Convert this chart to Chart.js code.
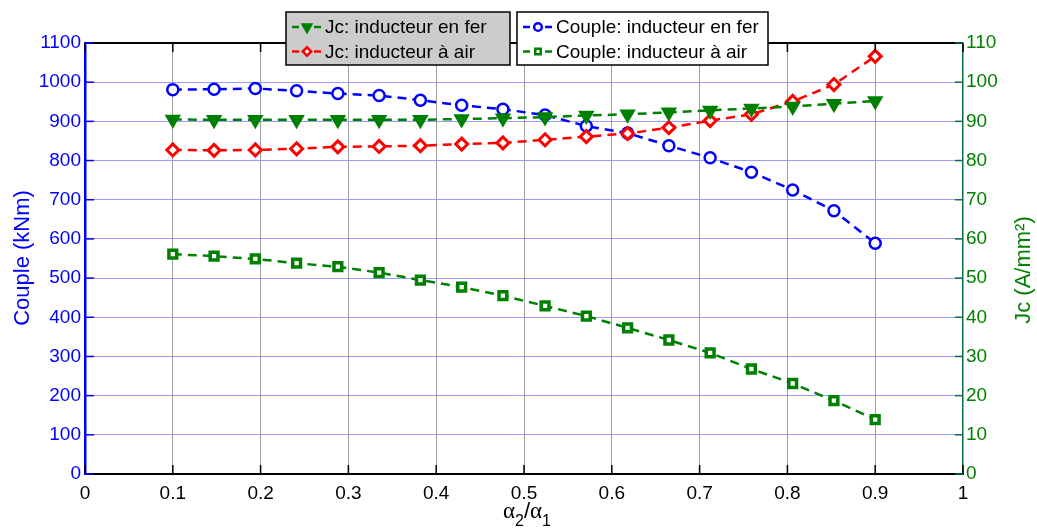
<!DOCTYPE html>
<html lang="fr">

<head>
    <meta charset="UTF-8">
    <title>Couple et Jc en fonction de a2/a1</title>
    <script src="https://cdn.jsdelivr.net/npm/chart.js"></script>
    <style>
        body { margin: 0; background: #ffffff; }
        canvas { display: block; }
    </style>
</head>

<body>
    <canvas id="resultsChart" width="1037" height="529"></canvas>

    <script>
        // values
        const ratios = [0.1, 0.147, 0.194, 0.241, 0.288, 0.335, 0.382, 0.429, 0.476,
                        0.524, 0.571, 0.618, 0.665, 0.712, 0.759, 0.806, 0.853, 0.9];
        const coupleFer = [981, 982, 984, 978, 971, 966, 954, 941, 931,
                           916, 888, 870, 838, 807, 770, 725, 672, 589];
        const coupleAir = [561, 556, 549, 538, 529, 514, 495, 477, 455,
                           429, 403, 373, 342, 309, 268, 231, 187, 139];
        const jcFer = [90.5, 90.4, 90.4, 90.4, 90.4, 90.4, 90.4, 90.6, 90.8,
                       91.1, 91.5, 91.8, 92.3, 92.8, 93.3, 93.8, 94.5, 95.2];
        const jcAir = [82.7, 82.6, 82.7, 83.0, 83.5, 83.6, 83.8, 84.2, 84.5,
                       85.3, 86.1, 86.9, 88.4, 90.2, 91.8, 95.1, 99.4, 106.6];

        const seriesLabels = ["Jc: inducteur en fer", "Jc: inducteur à air",
                              "Couple: inducteur en fer", "Couple: inducteur à air"];

        const BLUE = "#0000ff";
        const RED = "#ff0000";
        const GREEN = "#008000";
        const FONT = "'Liberation Sans', Arial, sans-serif";

        function toPoints(values) {
            return ratios.map((r, i) => ({ x: r, y: values[i] }));
        }

        function makeDataset(label, values, color, axis, style) {
            return Object.assign({
                label: label,
                data: toPoints(values),
                yAxisID: axis,
                borderColor: color,
                pointBorderColor: color,
                borderWidth: 2.5,
                borderDash: [9, 6],
                pointBorderWidth: 2.5,
                fill: false,
                tension: 0
            }, style);
        }

        let datasets = [
            makeDataset(seriesLabels[0], jcFer, GREEN, "y1",
                { pointStyle: "triangle", rotation: 180, pointRadius: 7, pointBackgroundColor: GREEN }),
            makeDataset(seriesLabels[1], jcAir, RED, "y1",
                { pointStyle: "rectRot", pointRadius: 6, pointBorderWidth: 3, pointBackgroundColor: "#ffffff" }),
            makeDataset(seriesLabels[2], coupleFer, BLUE, "y",
                { pointStyle: "circle", pointRadius: 5.5, pointBorderWidth: 2.5, pointBackgroundColor: "#ffffff" }),
            makeDataset(seriesLabels[3], coupleAir, GREEN, "y",
                { pointStyle: "rect", pointRadius: 5.5, pointBorderWidth: 3.5, pointBackgroundColor: "#ffffff" })
        ];

        // draw a legend sample (short dashed line + marker)
        function drawSample(ctx, ds, x0, x1, y) {
            ctx.save();
            ctx.strokeStyle = ds.borderColor;
            ctx.lineWidth = 2.5;
            ctx.setLineDash([7, 4]);
            ctx.beginPath();
            ctx.moveTo(x0, y);
            ctx.lineTo(x1, y);
            ctx.stroke();
            ctx.setLineDash([]);
            ctx.strokeStyle = ds.pointBorderColor;
            ctx.fillStyle = ds.pointBackgroundColor;
            ctx.lineWidth = 2.5;
            Chart.helpers.drawPoint(ctx, {
                pointStyle: ds.pointStyle,
                rotation: ds.rotation || 0,
                radius: ds.pointRadius * 0.7,
                borderWidth: 2.5
            }, (x0 + x1) / 2, y);
            ctx.restore();
        }

        function drawLegendBox(ctx, items, box, bg) {
            ctx.save();
            ctx.fillStyle = bg;
            ctx.fillRect(box.x, box.y, box.w, box.h);
            ctx.strokeStyle = "#000000";
            ctx.lineWidth = 1.5;
            ctx.strokeRect(box.x, box.y, box.w, box.h);
            ctx.font = "19px " + FONT;
            ctx.fillStyle = "#000000";
            ctx.textBaseline = "middle";
            items.forEach((ds, i) => {
                let y = box.y + 15 + i * 24.5;
                drawSample(ctx, ds, box.x + 6, box.x + 36, y);
                ctx.fillText(ds.label, box.x + 39, y + 1);
            });
            ctx.restore();
        }

        // frame, inward ticks, legends and axis titles like the matlab figure
        const decorations = {
            id: "decorations",
            afterDraw(chart) {
                let ctx = chart.ctx;
                let area = chart.chartArea;
                let sx = chart.scales.x, sy = chart.scales.y, sy1 = chart.scales.y1;

                ctx.save();
                // top frame line
                ctx.strokeStyle = "#000000";
                ctx.lineWidth = 2;
                ctx.beginPath();
                ctx.moveTo(area.left, area.top);
                ctx.lineTo(area.right, area.top);
                ctx.stroke();

                // x ticks, bottom and top, pointing inside
                ctx.lineWidth = 1.5;
                sx.ticks.forEach(t => {
                    let px = sx.getPixelForValue(t.value);
                    ctx.beginPath();
                    ctx.moveTo(px, area.bottom);
                    ctx.lineTo(px, area.bottom - 9);
                    ctx.moveTo(px, area.top);
                    ctx.lineTo(px, area.top + 9);
                    ctx.stroke();
                });
                // left ticks
                ctx.strokeStyle = BLUE;
                sy.ticks.forEach(t => {
                    let py = sy.getPixelForValue(t.value);
                    ctx.beginPath();
                    ctx.moveTo(area.left, py);
                    ctx.lineTo(area.left + 9, py);
                    ctx.stroke();
                });
                // right ticks
                ctx.strokeStyle = "#0b6b4a";
                sy1.ticks.forEach(t => {
                    let py = sy1.getPixelForValue(t.value);
                    ctx.beginPath();
                    ctx.moveTo(area.right, py);
                    ctx.lineTo(area.right - 8, py);
                    ctx.stroke();
                });

                // axis titles
                ctx.font = "22px " + FONT;
                ctx.textAlign = "center";
                ctx.textBaseline = "middle";
                ctx.fillStyle = BLUE;
                ctx.save();
                ctx.translate(23, 258);
                ctx.rotate(-Math.PI / 2);
                ctx.fillText("Couple (kNm)", 0, 0);
                ctx.restore();

                ctx.fillStyle = GREEN;
                ctx.save();
                ctx.translate(1024, 270);
                ctx.rotate(-Math.PI / 2);
                ctx.fillText("Jc (A/mm²)", 0, 0);
                ctx.restore();

                // x title: alpha_2 / alpha_1
                ctx.fillStyle = "#000000";
                ctx.textAlign = "left";
                ctx.textBaseline = "alphabetic";
                let x = 503, base = 518;
                ctx.font = "23px 'Liberation Serif', serif";
                ctx.fillText("α", x, base);
                x += ctx.measureText("α").width;
                ctx.font = "16px " + FONT;
                ctx.fillText("2", x, base + 8);
                x += ctx.measureText("2").width;
                ctx.font = "22px " + FONT;
                ctx.fillText("/", x, base);
                x += ctx.measureText("/").width;
                ctx.font = "23px 'Liberation Serif', serif";
                ctx.fillText("α", x, base);
                x += ctx.measureText("α").width;
                ctx.font = "16px " + FONT;
                ctx.fillText("1", x, base + 8);
                ctx.restore();

                // the two legend boxes
                let ds = chart.data.datasets;
                drawLegendBox(ctx, [ds[0], ds[1]], { x: 286, y: 12, w: 224, h: 53 }, "#cccccc");
                drawLegendBox(ctx, [ds[2], ds[3]], { x: 517, y: 12, w: 251, h: 53 }, "#ffffff");
            }
        };

        let ctx = document.getElementById("resultsChart").getContext("2d");
        let chartInstance = new Chart(ctx, {
            type: "line",
            data: { datasets: datasets },
            plugins: [decorations],
            options: {
                responsive: false,
                animation: false,
                layout: { padding: { top: 43, left: 0, right: 0, bottom: 0 } },
                plugins: {
                    legend: { display: false },
                    tooltip: { enabled: false }
                },
                scales: {
                    x: {
                        type: "linear",
                        min: 0,
                        max: 1,
                        afterFit: scale => { scale.height = 55; },
                        ticks: {
                            stepSize: 0.1,
                            autoSkip: false,
                            color: "#000000",
                            padding: 8,
                            font: { family: FONT, size: 19 },
                            callback: v => String(Number(v.toFixed(1)))
                        },
                        grid: {
                            drawTicks: false,
                            lineWidth: 1,
                            color: c => (c.tick && (c.tick.value < 0.05 || c.tick.value > 0.95)) ? "rgba(0,0,0,0)" : "#a0a0a0"
                        },
                        border: { color: "#000000", width: 2 }
                    },
                    y: {
                        position: "left",
                        min: 0,
                        max: 1100,
                        afterFit: scale => { scale.width = 85; },
                        ticks: {
                            stepSize: 100,
                            color: BLUE,
                            padding: 4,
                            font: { family: FONT, size: 19 },
                            callback: v => String(v)
                        },
                        grid: {
                            drawTicks: false,
                            lineWidth: 1,
                            color: c => (c.tick && (c.tick.value === 0 || c.tick.value === 1100)) ? "rgba(0,0,0,0)" : "#9a9aff"
                        },
                        border: { color: BLUE, width: 2.5 }
                    },
                    y1: {
                        position: "right",
                        min: 0,
                        max: 110,
                        afterFit: scale => { scale.width = 74; },
                        ticks: {
                            stepSize: 10,
                            color: GREEN,
                            padding: 3,
                            font: { family: FONT, size: 19 },
                            callback: v => String(v)
                        },
                        grid: { drawOnChartArea: false, drawTicks: false },
                        border: { color: "#0b6b4a", width: 1.5 }
                    }
                }
            }
        });
    </script>
</body>

</html>
